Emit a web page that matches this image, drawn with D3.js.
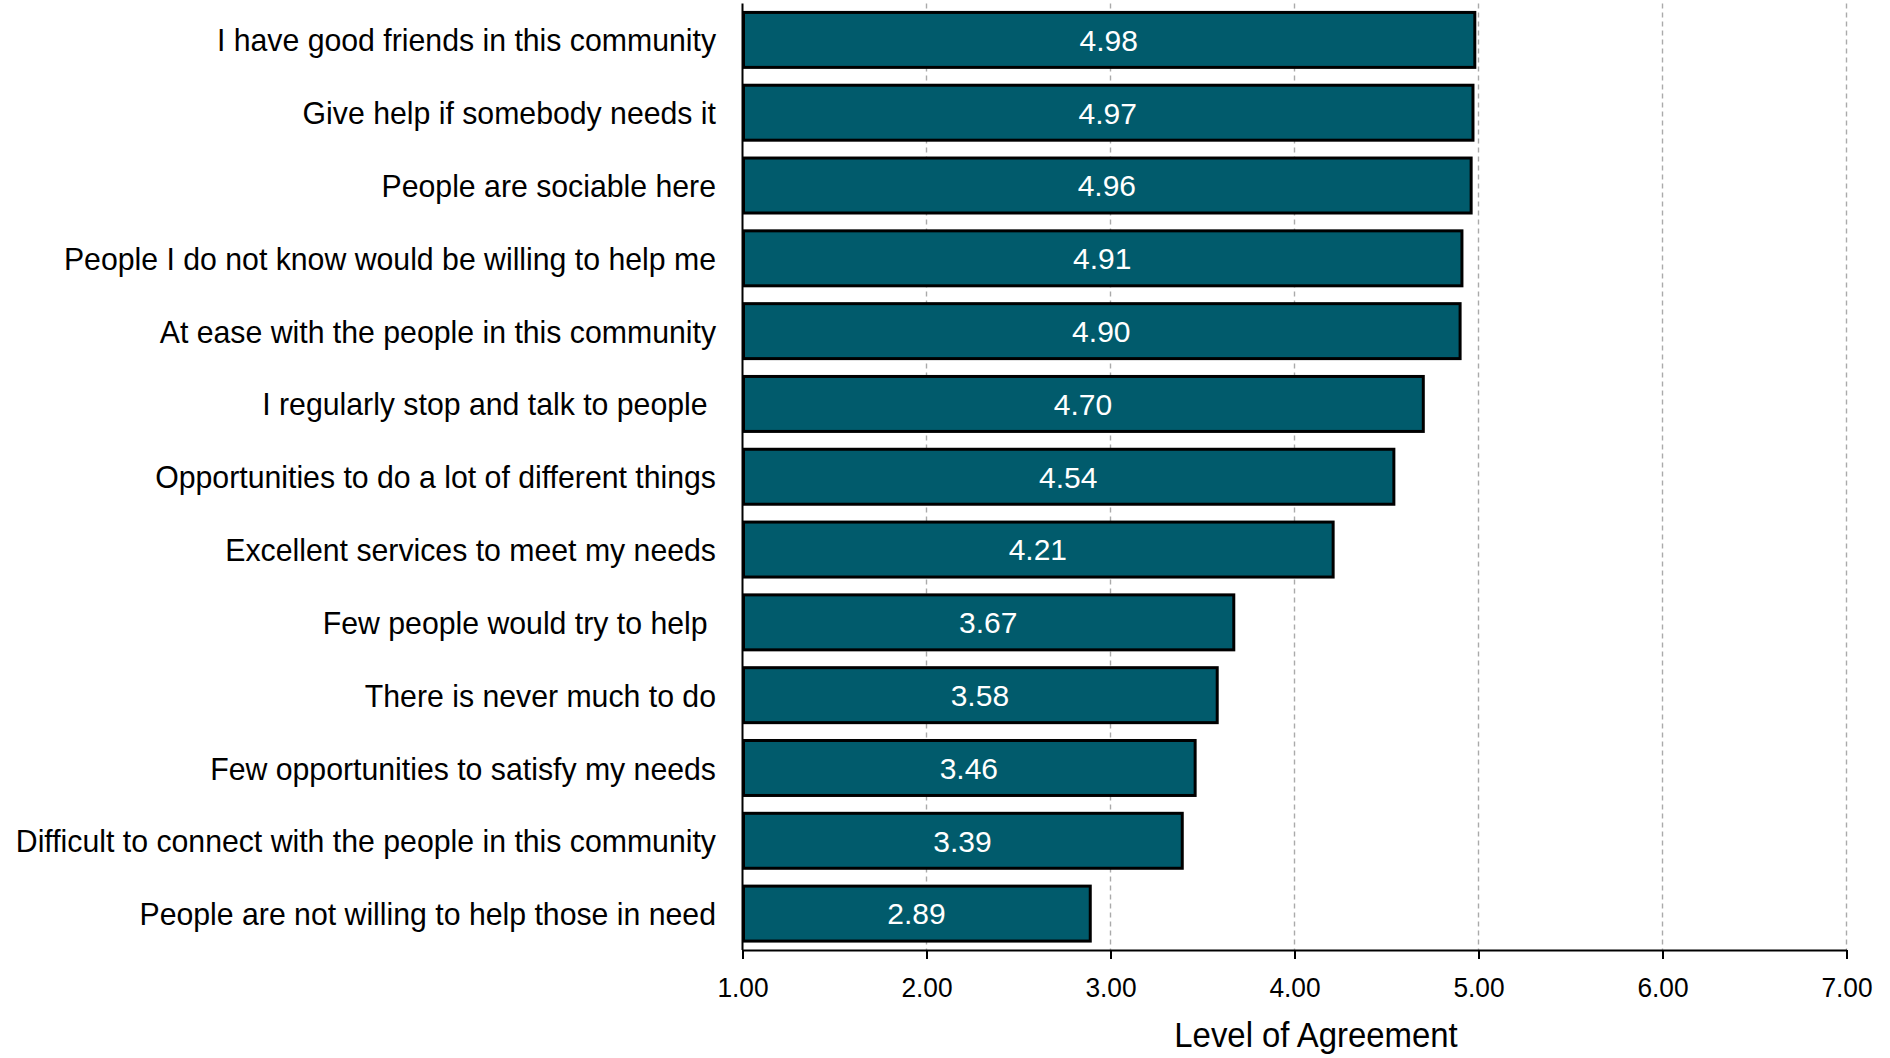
<!DOCTYPE html>
<html>
<head>
<meta charset="utf-8">
<script src="https://cdn.jsdelivr.net/npm/d3@7"></script>
<style>
  html, body { margin: 0; padding: 0; background: #fff; }
  svg { display: block; }
  text { font-family: "Liberation Sans", Arial, sans-serif; white-space: pre; }
</style>
</head>
<body>
<svg id="chart" width="1890" height="1058"></svg>
<script>
const categories = [
  "I have good friends in this community",
  "Give help if somebody needs it",
  "People are sociable here",
  "People I do not know would be willing to help me",
  "At ease with the people in this community",
  "I regularly stop and talk to people ",
  "Opportunities to do a lot of different things",
  "Excellent services to meet my needs",
  "Few people would try to help ",
  "There is never much to do",
  "Few opportunities to satisfy my needs",
  "Difficult to connect with the people in this community",
  "People are not willing to help those in need"
];
const values = [4.98, 4.97, 4.96, 4.91, 4.90, 4.70, 4.54, 4.21, 3.67, 3.58, 3.46, 3.39, 2.89];
const tickValues = [1, 2, 3, 4, 5, 6, 7];
const axisTitle = "Level of Agreement";

(function () {
const svg = d3.select("#chart");
const pLeft = 742.5, pRight = 1846.5, pTop = 3.5, pBottom = 950;

const x = d3.scaleLinear().domain([1, 7]).range([pLeft, pRight]);
const y = d3.scaleBand().domain(categories).range([pTop, pBottom])
  .paddingInner(0.245).paddingOuter(0.1225);

// gridlines
svg.append("g").selectAll("line").data(tickValues.slice(1)).join("line")
  .attr("x1", d => x(d)).attr("x2", d => x(d))
  .attr("y1", pTop).attr("y2", pBottom)
  .attr("stroke", "#aaaaaa").attr("stroke-width", 1.4)
  .attr("stroke-dasharray", "5,4");

// bars
svg.append("g").selectAll("rect").data(values).join("rect")
  .attr("x", x(1) + 1)
  .attr("y", (d, i) => y(categories[i]))
  .attr("width", d => x(d) - x(1) - 1)
  .attr("height", y.bandwidth())
  .attr("fill", "#015b6c")
  .attr("stroke", "#000").attr("stroke-width", 3);

// bar labels
svg.append("g").selectAll("text").data(values).join("text")
  .attr("transform", (d, i) => `translate(${(x(1) + x(d)) / 2},${y(categories[i]) + y.bandwidth() / 2})`)
  .attr("text-anchor", "middle").attr("dy", "0.36em")
  .attr("font-size", 30).attr("fill", "#fff")
  .text(d => d.toFixed(2));

// category labels
svg.append("g").selectAll("text").data(categories).join("text")
  .attr("transform", d => `translate(716,${y(d) + y.bandwidth() / 2}) scale(0.945,1)`)
  .attr("text-anchor", "end").attr("dy", "0.36em")
  .attr("font-size", 32).attr("fill", "#000")
  .text(d => d);

// x axis
const xAxis = d3.axisBottom(x).tickValues(tickValues).tickFormat(d3.format(".2f"))
  .tickSize(9).tickSizeOuter(0).tickPadding(0);
const gx = svg.append("g").attr("transform", `translate(0,${pBottom})`).call(xAxis);
gx.select(".domain").attr("stroke", "#000").attr("stroke-width", 2);
gx.selectAll(".tick line").attr("stroke", "#000").attr("stroke-width", 2);
gx.selectAll(".tick text")
  .attr("font-family", "Liberation Sans, Arial, sans-serif")
  .attr("font-size", 28).attr("fill", "#000")
  .attr("y", 0).attr("dy", 0)
  .attr("transform", "translate(0,47) scale(0.94,1)");

// y axis line
svg.append("line").attr("x1", pLeft).attr("x2", pLeft).attr("y1", pTop).attr("y2", pBottom)
  .attr("stroke", "#000").attr("stroke-width", 2);

// axis title
svg.append("text")
  .attr("transform", `translate(1316,1047) scale(0.94,1)`)
  .attr("text-anchor", "middle").attr("font-size", 35).attr("fill", "#000")
  .text(axisTitle);
})();
</script>
</body>
</html>
